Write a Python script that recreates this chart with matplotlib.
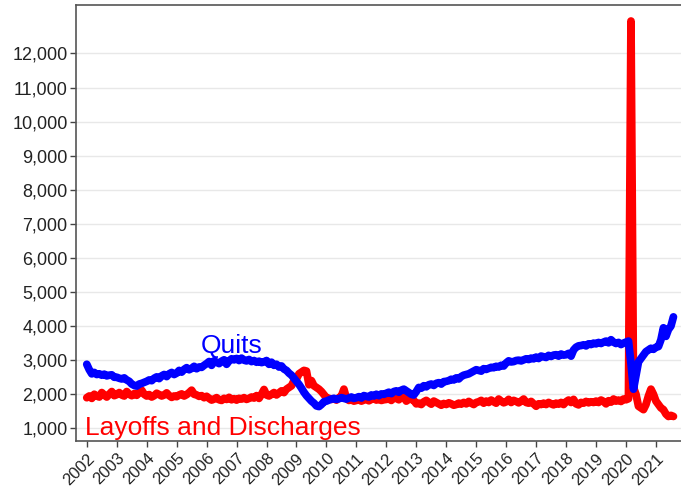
import matplotlib
matplotlib.use("Agg")
import matplotlib.pyplot as plt
import numpy as np
from matplotlib.ticker import FuncFormatter

plt.rcParams['font.family'] = ['Liberation Sans', 'DejaVu Sans']

start_year = 2002
# Monthly values (thousands), Jan 2002 - Aug 2021
quits = [
    2880, 2720, 2600, 2640, 2580, 2600, 2560, 2590, 2540, 2560, 2570, 2500,   # 2002
    2500, 2470, 2450, 2480, 2420, 2380, 2300, 2260, 2240, 2300, 2320, 2350,   # 2003
    2380, 2420, 2400, 2470, 2510, 2460, 2540, 2580, 2520, 2600, 2640, 2580,   # 2004
    2620, 2700, 2650, 2730, 2780, 2720, 2760, 2820, 2750, 2800, 2790, 2850,   # 2005
    2900, 2960, 2850, 2980, 2940, 2900, 2970, 3010, 2880, 2980, 3040, 3010,   # 2006
    3050, 2990, 3060, 3000, 2980, 3020, 2960, 2990, 2940, 2970, 2930, 2950,   # 2007
    2990, 2880, 2940, 2850, 2880, 2800, 2830, 2740, 2700, 2620, 2560, 2470,   # 2008
    2380, 2290, 2180, 2060, 1960, 1880, 1800, 1740, 1660, 1640, 1700, 1780,   # 2009
    1800, 1830, 1860, 1880, 1850, 1870, 1900, 1880, 1860, 1890, 1920, 1880,   # 2010
    1900, 1930, 1890, 1960, 1940, 1920, 1980, 1950, 2000, 1960, 2010, 2000,   # 2011
    2030, 2060, 2020, 2080, 2100, 2060, 2120, 2150, 2100, 2050, 2000, 1980,   # 2012
    2080, 2200, 2180, 2250, 2220, 2280, 2300, 2260, 2320, 2340, 2300, 2370,   # 2013
    2380, 2400, 2440, 2420, 2480, 2450, 2520, 2560, 2580, 2600, 2640, 2680,   # 2014
    2720, 2700, 2680, 2750, 2730, 2760, 2790, 2780, 2820, 2800, 2850, 2830,   # 2015
    2920, 2980, 2950, 2960, 2990, 3000, 2980, 3010, 3040, 3020, 3060, 3040,   # 2016
    3090, 3050, 3120, 3100, 3080, 3140, 3110, 3150, 3160, 3120, 3180, 3150,   # 2017
    3160, 3200, 3120, 3300, 3380, 3420, 3430, 3450, 3420, 3480, 3460, 3500,   # 2018
    3480, 3520, 3490, 3530, 3560, 3510, 3600, 3530, 3490, 3520, 3460, 3500,   # 2019
    3530, 3560, 2900, 2150, 2550, 2950, 3050, 3150, 3250, 3300, 3350, 3320,   # 2020
    3380, 3400, 3600, 3950, 3700, 3900, 4000, 4270,                           # 2021
]
layoffs = [
    1900, 1950, 1880, 2000, 1950, 1920, 2050, 1980, 1920, 2000, 2080, 1960,   # 2002
    1990, 2050, 1980, 1950, 2080, 2000, 1960, 2020, 1970, 2050, 2120, 2000,   # 2003
    1950, 1990, 1920, 1960, 2030, 1990, 1950, 1980, 2040, 1960, 1910, 1950,   # 2004
    1930, 1980, 2010, 1950, 1990, 2050, 2120, 2000, 1980, 1940, 1960, 1900,   # 2005
    1940, 1880, 1830, 1860, 1900, 1840, 1820, 1880, 1850, 1910, 1840, 1870,   # 2006
    1830, 1880, 1860, 1900, 1850, 1880, 1920, 1890, 1960, 1880, 2000, 2140,   # 2007
    1980, 1950, 2000, 2050, 1980, 2040, 2100, 2050, 2150, 2200, 2250, 2400,   # 2008
    2450, 2600, 2650, 2700, 2680, 2280, 2400, 2250, 2200, 2150, 2080, 1990,   # 2009
    1900, 1880, 1850, 1870, 1830, 1900, 1950, 2150, 1880, 1820, 1840, 1800,   # 2010
    1820, 1840, 1800, 1830, 1870, 1810, 1850, 1880, 1830, 1860, 1820, 1840,   # 2011
    1850, 1870, 1820, 1900, 1880, 1840, 1980, 1920, 1800, 1860, 1850, 1820,   # 2012
    1720, 1740, 1700, 1780, 1820, 1760, 1710, 1800, 1760, 1720, 1680, 1730,   # 2013
    1700, 1750, 1720, 1680, 1700, 1740, 1710, 1760, 1720, 1790, 1740, 1700,   # 2014
    1760, 1780, 1820, 1740, 1800, 1760, 1830, 1780, 1740, 1860, 1800, 1750,   # 2015
    1780, 1850, 1760, 1820, 1790, 1750, 1800, 1860, 1760, 1740, 1790, 1720,   # 2016
    1650, 1720, 1700, 1740, 1700, 1760, 1720, 1690, 1740, 1710, 1760, 1700,   # 2017
    1780, 1830, 1760, 1850, 1720, 1690, 1760, 1740, 1790, 1750, 1780, 1760,   # 2018
    1800, 1760, 1830, 1790, 1720, 1810, 1770, 1860, 1800, 1830, 1790, 1860,   # 2019
    1840, 1870, 12950, 2200, 2000, 1650, 1600, 1550, 1700, 1950, 2150, 2000,  # 2020
    1800, 1700, 1600, 1550, 1420, 1350, 1380, 1350,                          # 2021
]
year_ticks = list(range(2002, 2022))
y_ticks = list(range(1000, 13000, 1000))

n = len(quits)
t = start_year + np.arange(n) / 12.0

fig = plt.figure(figsize=(6.81, 4.87), dpi=100)
ax = fig.add_axes([0.1116, 0.0945, 0.8884 + 0.005, 0.8952])

ax.plot(t, layoffs, color='#ff0000', lw=5.6, solid_joinstyle='round', solid_capstyle='round', zorder=3)
ax.plot(t, quits, color='#0000ff', lw=5.6, solid_joinstyle='round', solid_capstyle='round', zorder=4)

ax.set_xlim(2001.64, 2021.95)
ax.set_ylim(630, 13420)
ax.set_yticks(y_ticks)
ax.yaxis.set_major_formatter(FuncFormatter(lambda v, p: f"{int(v):,}"))
ax.set_xticks(year_ticks)
ax.set_xticklabels([str(y) for y in year_ticks], rotation=45, ha='right', va='top',
                   rotation_mode='anchor')
ax.tick_params(axis='y', labelsize=13, length=4, width=1, color='#444444', labelcolor='#222222', pad=2)
ax.tick_params(axis='x', labelsize=12, length=4, width=1, color='#444444', labelcolor='#222222', pad=3)

ax.grid(axis='y', color='#e8e8e8', lw=1)
ax.set_axisbelow(True)
for s in ['left', 'bottom', 'top']:
    ax.spines[s].set_color('#555555')
    ax.spines[s].set_linewidth(1.2)
ax.spines['right'].set_visible(False)

ax.text(2005.80, 3210, "Quits", color='#0000ff', fontsize=19, ha='left', va='baseline', zorder=5)
ax.text(2001.94, 805, "Layoffs and Discharges", color='#ff0000', fontsize=19, ha='left',
        va='baseline', zorder=5)

fig.savefig("out.png", dpi=100)
